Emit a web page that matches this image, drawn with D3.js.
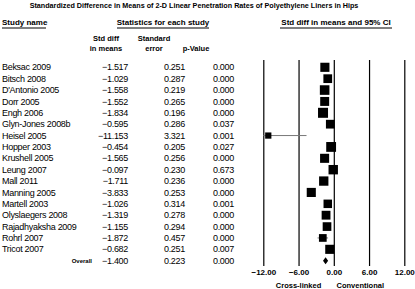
<!DOCTYPE html>
<html>
<head>
<meta charset="utf-8">
<script src="https://cdn.jsdelivr.net/npm/d3@7"></script>
<style>
body { margin: 0; background: #fff; }
text { font-family: "Liberation Sans", Arial, sans-serif; fill: #000; }
</style>
</head>
<body>
<svg width="415" height="289"></svg>
<script>
var studies = ['Beksac 2009', 'Bitsch 2008', "D'Antonio 2005", 'Dorr 2005', 'Engh 2006', 'Glyn-Jones 2008b',
	'Heisel 2005', 'Hopper 2003', 'Krushell 2005', 'Leung 2007', 'Mall 2011', 'Manning 2005', 'Martell 2003',
	'Olyslaegers 2008', 'Rajadhyaksha 2009', 'Rohrl 2007', 'Tricot 2007'];
var stdDiff = [-1.517, -1.029, -1.558, -1.552, -1.834, -0.595, -11.153, -0.454, -1.565, -0.097, -1.711, -3.833,
	-1.026, -1.319, -1.155, -1.872, -0.682];
var stdErr = [0.251, 0.287, 0.219, 0.265, 0.196, 0.286, 3.321, 0.205, 0.256, 0.230, 0.236, 0.253, 0.314, 0.278,
	0.294, 0.457, 0.251];
var pValue = ['0.000', '0.000', '0.000', '0.000', '0.000', '0.037', '0.001', '0.027', '0.000', '0.673', '0.000',
	'0.000', '0.001', '0.000', '0.000', '0.000', '0.007'];
var overall = { diff: -1.400, se: 0.223, p: '0.000' };
var ticks = [-12, -6, 0, 6, 12];

var svg = d3.select('svg');
var fmt = d3.format('.3f');

var rows = studies.map(function (s, i) {
	return { name: s, diff: stdDiff[i], se: stdErr[i], p: pValue[i] };
});

var y = d3.scalePoint()
	.domain(studies.concat(['Overall']))
	.range([67.3, 260.7]);

var x = d3.scaleLinear()
	.domain([-12, 12])
	.range([263.3, 404.3]);

var size = d3.scaleSqrt()
	.domain([0, d3.max(rows, function (d) { return 1 / (d.se * d.se); })])
	.range([6, 10]);

// title
svg.append('text')
	.attr('x', 194).attr('y', 8)
	.attr('text-anchor', 'middle')
	.style('font-size', '7.2px').style('font-weight', 'bold')
	.text('Standardized Difference  in Means  of 2-D Linear Penetration  Rates  of Polyethylene Liners in Hips');

// group headers with underlines
var headers = [
	{ t: 'Study name', x: 2, anchor: 'start', x1: 2, x2: 46 },
	{ t: 'Statistics for each study', x: 163, anchor: 'middle', x1: 117, x2: 209 },
	{ t: 'Std diff in means and 95% CI', x: 336, anchor: 'middle', x1: 280, x2: 392 }
];
headers.forEach(function (h) {
	svg.append('text')
		.attr('x', h.x).attr('y', 25)
		.attr('text-anchor', h.anchor)
		.style('font-size', '8px').style('font-weight', 'bold')
		.text(h.t);
	svg.append('line')
		.attr('x1', h.x1).attr('x2', h.x2)
		.attr('y1', 28).attr('y2', 28)
		.attr('stroke', '#000').attr('stroke-width', 1);
});

// column headers
var colHead = [
	{ x: 106, lines: ['Std diff', 'in means'] },
	{ x: 154, lines: ['Standard', 'error'] },
	{ x: 196, lines: ['', 'p-Value'] }
];
colHead.forEach(function (c) {
	c.lines.forEach(function (l, j) {
		svg.append('text')
			.attr('x', c.x).attr('y', 41 + j * 10)
			.attr('text-anchor', 'middle')
			.style('font-size', '7.5px').style('font-weight', 'bold')
			.text(l);
	});
});

// table rows
var body = svg.append('g').style('font-size', '9px').style('letter-spacing', '-0.3px');
var rowG = body.selectAll('g.row').data(rows).enter().append('g')
	.attr('transform', function (d) { return 'translate(0,' + y(d.name) + ')'; });
rowG.append('text').attr('x', 2).attr('dy', '0.35em').text(function (d) { return d.name; });
rowG.append('text').attr('x', 128).attr('dy', '0.35em').attr('text-anchor', 'end').text(function (d) { return fmt(d.diff); });
rowG.append('text').attr('x', 185).attr('dy', '0.35em').attr('text-anchor', 'end').text(function (d) { return fmt(d.se); });
rowG.append('text').attr('x', 234).attr('dy', '0.35em').attr('text-anchor', 'end').text(function (d) { return d.p; });

var ov = svg.append('g').attr('transform', 'translate(0,' + y('Overall') + ')');
ov.append('text').attr('x', 92).attr('dy', '0.35em').attr('text-anchor', 'end')
	.style('font-size', '6px').style('font-weight', 'bold').text('Overall');
[[128, fmt(overall.diff)], [185, fmt(overall.se)], [234, overall.p]].forEach(function (c) {
	ov.append('text').attr('x', c[0]).attr('dy', '0.35em').attr('text-anchor', 'end')
		.style('font-size', '9px').style('letter-spacing', '-0.3px').text(c[1]);
});

// vertical grid lines and axis labels
var axis = d3.axisBottom(x).tickValues(ticks).tickSize(206).tickFormat(d3.format('.2f'));
svg.append('g')
	.attr('transform', 'translate(0,60)')
	.call(axis)
	.call(function (g) {
		g.select('.domain').remove();
		g.selectAll('.tick line').attr('stroke', '#000').attr('stroke-width', 1.2);
		g.selectAll('.tick text')
			.attr('y', 209)
			.style('font-size', '8px').style('font-weight', 'bold')
			.style('font-family', '"Liberation Sans", Arial, sans-serif');
	});

// CI lines
var plot = svg.append('g');
plot.selectAll('line.ci').data(rows).enter().append('line')
	.attr('x1', function (d) { return x(Math.max(-12, d.diff - 1.96 * d.se)); })
	.attr('x2', function (d) { return x(Math.min(12, d.diff + 1.96 * d.se)); })
	.attr('y1', function (d) { return y(d.name); })
	.attr('y2', function (d) { return y(d.name); })
	.attr('stroke', '#777').attr('stroke-width', 1);

// boxes
plot.selectAll('rect.box').data(rows).enter().append('rect')
	.attr('x', function (d) { return x(d.diff) - size(1 / (d.se * d.se)) / 2; })
	.attr('y', function (d) { return y(d.name) - size(1 / (d.se * d.se)) / 2; })
	.attr('width', function (d) { return size(1 / (d.se * d.se)); })
	.attr('height', function (d) { return size(1 / (d.se * d.se)); })
	.attr('fill', '#000');

// overall diamond
var lo = x(overall.diff - 1.96 * overall.se), hi = x(overall.diff + 1.96 * overall.se);
var cy = y('Overall');
plot.append('path')
	.attr('d', 'M' + lo + ',' + cy + 'L' + x(overall.diff) + ',' + (cy - 3.5) + 'L' + hi + ',' + cy +
		'L' + x(overall.diff) + ',' + (cy + 3.5) + 'Z')
	.attr('fill', '#000');

// favour labels
svg.append('text').attr('x', x(-6)).attr('y', 288).attr('text-anchor', 'middle')
	.style('font-size', '7.5px').style('font-weight', 'bold').text('Cross-linked');
svg.append('text').attr('x', x(4.5)).attr('y', 288).attr('text-anchor', 'middle')
	.style('font-size', '7.5px').style('font-weight', 'bold').text('Conventional');
</script>
</body>
</html>
